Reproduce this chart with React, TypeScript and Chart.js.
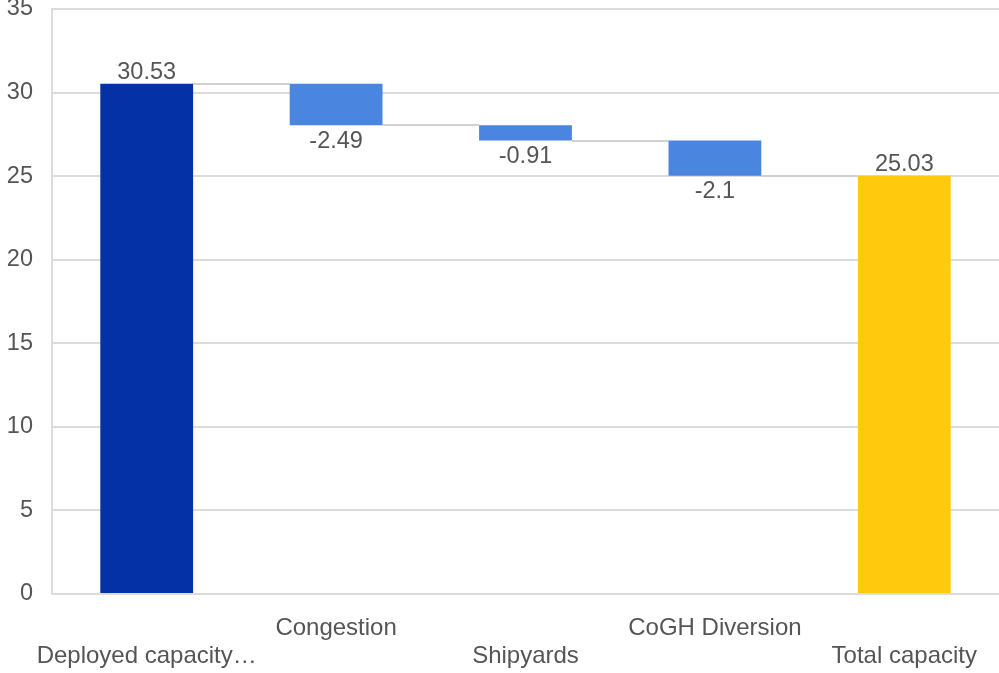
import React, { useEffect, useRef } from "react";
import { Chart, registerables } from "chart.js";

Chart.register(...registerables);

const categories = ["Deployed capacity…", "Congestion", "Shipyards", "CoGH Diversion", "Total capacity"];
const startValue = 30.53;
const changes = [-2.49, -0.91, -2.1];
const totalValue = 25.03;
const labelRows = [1, 0, 1, 0, 1]; // 0 = upper row, 1 = lower row
const yTicks = [0, 5, 10, 15, 20, 25, 30, 35];

const colors = ["#0531a7", "#4a86e0", "#4a86e0", "#4a86e0", "#ffc90e"];
const FONT = "'Liberation Sans', Arial, sans-serif";

function buildRanges() {
  const ranges: [number, number][] = [[0, startValue]];
  const labels: string[] = [String(startValue)];
  let run = startValue;
  for (const c of changes) {
    const next = Math.round((run + c) * 100) / 100;
    ranges.push([next, run]);
    labels.push(String(c));
    run = next;
  }
  ranges.push([0, totalValue]);
  labels.push(String(totalValue));
  return { ranges, labels };
}

export default function App() {
  const ref = useRef<HTMLCanvasElement | null>(null);
  useEffect(() => {
    if (!ref.current) return;
    const { ranges, labels } = buildRanges();
    const signs = [1, ...changes.map((c) => (c < 0 ? -1 : 1)), 1];

    const connectors = {
      id: "connectors",
      beforeDatasetsDraw(chart: any) {
        const meta = chart.getDatasetMeta(0);
        const y = chart.scales.y;
        const ctx = chart.ctx;
        ctx.save();
        ctx.strokeStyle = "#d0d0d0";
        ctx.lineWidth = 2;
        for (let i = 0; i < ranges.length - 1; i++) {
          const a = meta.data[i];
          const b = meta.data[i + 1];
          const level = i === 0 ? ranges[0][1] : ranges[i][0];
          const yy = Math.round(y.getPixelForValue(level));
          ctx.beginPath();
          ctx.moveTo(a.x + a.width / 2, yy);
          ctx.lineTo(b.x - b.width / 2, yy);
          ctx.stroke();
        }
        ctx.restore();
      },
    };

    const valueLabels = {
      id: "valueLabels",
      afterDatasetsDraw(chart: any) {
        const meta = chart.getDatasetMeta(0);
        const y = chart.scales.y;
        const ctx = chart.ctx;
        ctx.save();
        ctx.font = `23.5px ${FONT}`;
        ctx.fillStyle = "#555555";
        ctx.textAlign = "center";
        for (let i = 0; i < ranges.length; i++) {
          const el = meta.data[i];
          if (signs[i] > 0) {
            ctx.textBaseline = "alphabetic";
            ctx.fillText(labels[i], el.x, y.getPixelForValue(ranges[i][1]) - 5);
          } else {
            ctx.textBaseline = "top";
            ctx.fillText(labels[i], el.x, y.getPixelForValue(ranges[i][0]) + 4);
          }
        }
        ctx.restore();
      },
    };

    const chart = new Chart(ref.current, {
      type: "bar",
      data: {
        labels: categories,
        datasets: [
          {
            data: ranges as any,
            backgroundColor: colors,
            borderWidth: 0,
            borderSkipped: false,
            barPercentage: 0.49,
            categoryPercentage: 1,
          },
        ],
      },
      options: {
        animation: false,
        responsive: false,
        maintainAspectRatio: false,
        layout: { padding: { left: 0, right: 0, top: 9, bottom: 0 } },
        plugins: { legend: { display: false }, tooltip: { enabled: false } },
        scales: {
          x: {
            grid: { display: false },
            border: { display: false },
            afterFit: (axis: any) => {
              axis.height = 79;
              axis.paddingLeft = 0;
              axis.paddingRight = 0;
            },
            ticks: {
              autoSkip: false,
              maxRotation: 0,
              minRotation: 0,
              padding: 12,
              color: "#555555",
              font: { family: FONT, size: 24, lineHeight: 1.167 },
              callback: (_v: any, i: number) =>
                labelRows[i] === 0 ? [categories[i], ""] : ["", categories[i]],
            },
          },
          y: {
            min: 0,
            max: 35,
            afterFit: (axis: any) => {
              axis.width = 52;
              axis.paddingTop = 0;
              axis.paddingBottom = 0;
            },
            afterBuildTicks: (axis: any) => {
              axis.ticks = yTicks.map((v) => ({ value: v }));
            },
            grid: { color: "#dcdcdc", lineWidth: 2, drawTicks: false },
            border: { display: true, color: "#dcdcdc", width: 2 },
            ticks: {
              padding: 19,
              color: "#555555",
              font: { family: FONT, size: 23.5 },
            },
          },
        },
      },
      plugins: [connectors, valueLabels],
    });
    return () => chart.destroy();
  }, []);

  return (
    <div style={{ position: "fixed", left: 0, top: 0, width: 999, height: 673, background: "#fff" }}>
      <canvas ref={ref} width={999} height={673} style={{ width: 999, height: 673, display: "block" }} />
    </div>
  );
}
